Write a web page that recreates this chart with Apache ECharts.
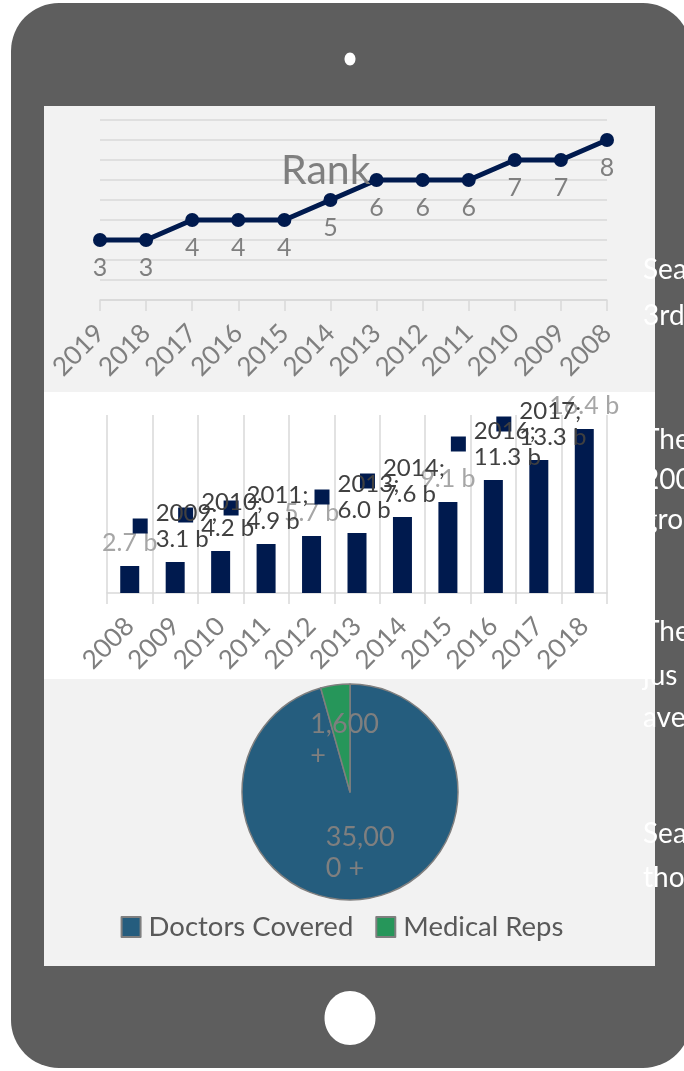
<!DOCTYPE html>
<html>
<head>
<meta charset="utf-8">
<script src="https://cdn.jsdelivr.net/npm/echarts@6/dist/echarts.min.js"></script>
<style>
  html, body { margin: 0; padding: 0; background: #ffffff; overflow: hidden; }
  #main { width: 684px; height: 1071px; }
</style>
</head>
<body>
<div id="main"></div>
<script>
// rank by year
const rankYears = ['2019', '2018', '2017', '2016', '2015', '2014', '2013', '2012', '2011', '2010', '2009', '2008'];
const rankValues = [3, 3, 4, 4, 4, 5, 6, 6, 6, 7, 7, 8];

// revenue (billions) by year
const revenueYears = ['2008', '2009', '2010', '2011', '2012', '2013', '2014', '2015', '2016', '2017', '2018'];
const revenueValues = [2.7, 3.1, 4.2, 4.9, 5.7, 6.0, 7.6, 9.1, 11.3, 13.3, 16.4];
// years whose label shows "year; value" with a key square
const keyedYears = ['2009', '2010', '2011', '2013', '2014', '2016', '2017'];
// years whose label shows just the value
const plainYears = ['2008', '2012', '2015', '2018'];

// coverage pie
const coverageNames = ['Doctors Covered', 'Medical Reps'];
const coverageValues = [35000, 1600];

// cut-off text at the right edge
const sideLines = ['Sea', '3rd', 'The', '200', 'gro', 'The', 'jus', 'ave', 'Sea', 'tho'];
const sideLineY = [256, 302, 426, 466, 506, 618, 662, 704, 820, 864];

const NAVY = '#001a4e';
const GRAY = '#7f7f7f';
const FONT = 'Lato';

const chart = echarts.init(document.getElementById('main'), null, { renderer: 'canvas' });

var graphics = [
  // tablet body
  { type: 'rect', z: -20, shape: { x: 11, y: 3, width: 680, height: 1065, r: 48 }, style: { fill: '#5e5e5e' } },
  // screen
  { type: 'rect', z: -19, shape: { x: 44, y: 106, width: 611, height: 860 }, style: { fill: '#f2f2f2' } },
  // white panel behind bar chart
  { type: 'rect', z: -18, shape: { x: 44, y: 392, width: 611, height: 287 }, style: { fill: '#ffffff' } },
  // camera + home button
  { type: 'ellipse', z: -17, shape: { cx: 350, cy: 59, rx: 5.5, ry: 6.5 }, style: { fill: '#ffffff' } },
  { type: 'ellipse', z: -17, shape: { cx: 350, cy: 1018, rx: 25.5, ry: 27 }, style: { fill: '#ffffff' } }
];
sideLines.forEach(function (t, i) {
  graphics.push({
    type: 'text', z: 100, x: 643, y: sideLineY[i],
    style: { text: t, fill: '#ffffff', font: '28px Lato' }
  });
});

var barData = revenueValues.map(function (v, i) {
  var show = plainYears.indexOf(revenueYears[i]) >= 0;
  return { value: v, label: { show: show } };
});
var keyData = revenueValues.map(function (v, i) {
  return keyedYears.indexOf(revenueYears[i]) >= 0 ? v : '-';
});

// pie labels wrap after 5 characters, like the narrow label box in the original
function pieLabel(p) {
  var s = p.value.toLocaleString('en-US') + ' +';
  return '{t|' + s.slice(0, 5) + '}\n{t|' + s.slice(5).trim() + '}';
}

var option = {
  animation: false,
  textStyle: { fontFamily: FONT },
  graphic: graphics,
  title: {
    text: 'Rank', left: 276, top: 145,
    textStyle: { color: GRAY, fontSize: 41, fontWeight: 'normal', fontFamily: FONT }
  },
  legend: {
    data: coverageNames, left: 'center', top: 908,
    icon: 'rect', itemWidth: 19, itemHeight: 20, itemGap: 22,
    textStyle: { color: '#595959', fontSize: 27.5, fontFamily: FONT, padding: [0, 0, 0, 3] }
  },
  grid: [
    { left: 100, top: 120, width: 507, height: 180, containLabel: false },
    { left: 107, top: 415, width: 500, height: 178, containLabel: false }
  ],
  xAxis: [
    {
      gridIndex: 0, type: 'category', data: rankYears, boundaryGap: false,
      axisLine: { lineStyle: { color: '#d9d9d9', width: 1.5 } },
      axisTick: { show: true, length: 11, lineStyle: { color: '#d9d9d9', width: 1.5 } },
      axisLabel: { interval: 0, rotate: 45, color: GRAY, fontSize: 26, margin: 29, fontFamily: FONT },
      splitLine: { show: false }
    },
    {
      gridIndex: 1, type: 'category', data: revenueYears, boundaryGap: true,
      axisLine: { lineStyle: { color: '#d9d9d9', width: 1.5 } },
      axisTick: { show: true, length: 11, lineStyle: { color: '#d9d9d9', width: 1.5 } },
      axisLabel: { interval: 0, rotate: 45, color: GRAY, fontSize: 26, margin: 29, fontFamily: FONT },
      splitLine: { show: true, lineStyle: { color: '#d9d9d9', width: 1.5 } }
    }
  ],
  yAxis: [
    {
      gridIndex: 0, type: 'value', min: 0, max: 9, interval: 1,
      axisLine: { show: false }, axisTick: { show: false }, axisLabel: { show: false },
      splitLine: { lineStyle: { color: '#d9d9d9', width: 1.5 } }
    },
    {
      gridIndex: 1, type: 'value', min: 0, max: 17.8, show: false,
      splitLine: { show: false }
    }
  ],
  series: [
    {
      type: 'line', xAxisIndex: 0, yAxisIndex: 0, data: rankValues,
      symbol: 'circle', symbolSize: 14,
      lineStyle: { color: NAVY, width: 5 },
      itemStyle: { color: NAVY },
      label: { show: true, position: 'bottom', distance: 8, color: GRAY, fontSize: 25, fontFamily: FONT }
    },
    {
      type: 'bar', xAxisIndex: 1, yAxisIndex: 1, data: barData, barWidth: 19,
      itemStyle: { color: NAVY },
      label: {
        position: 'top', distance: 11, color: '#a6a6a6', fontSize: 25, fontFamily: FONT,
        formatter: function (p) { return p.value.toFixed(1) + ' b'; }
      }
    },
    {
      type: 'scatter', xAxisIndex: 1, yAxisIndex: 1, data: keyData,
      symbol: 'rect', symbolSize: 15, symbolOffset: [-35, -36],
      itemStyle: { color: NAVY, opacity: 1 },
      label: {
        show: true, position: 'right', distance: 8, color: '#404040', fontSize: 24,
        lineHeight: 26, fontFamily: FONT,
        formatter: function (p) { return p.name + ';\n' + p.value.toFixed(1) + ' b'; }
      }
    },
    {
      type: 'pie', center: [350, 792], radius: 108, startAngle: 90, clockwise: true,
      data: coverageNames.map(function (n, i) { return { name: n, value: coverageValues[i] }; }),
      color: ['#255d7e', '#26965a'],
      itemStyle: { borderColor: GRAY, borderWidth: 1.5 },
      label: {
        show: true, position: 'inside', offset: [3, 4],
        formatter: pieLabel,
        rich: {
          t: { width: 70, align: 'left', color: GRAY, fontSize: 27, lineHeight: 31, fontFamily: FONT }
        }
      },
      labelLine: { show: false },
      emphasis: { disabled: true }
    }
  ]
};

chart.setOption(option);
</script>
</body>
</html>
